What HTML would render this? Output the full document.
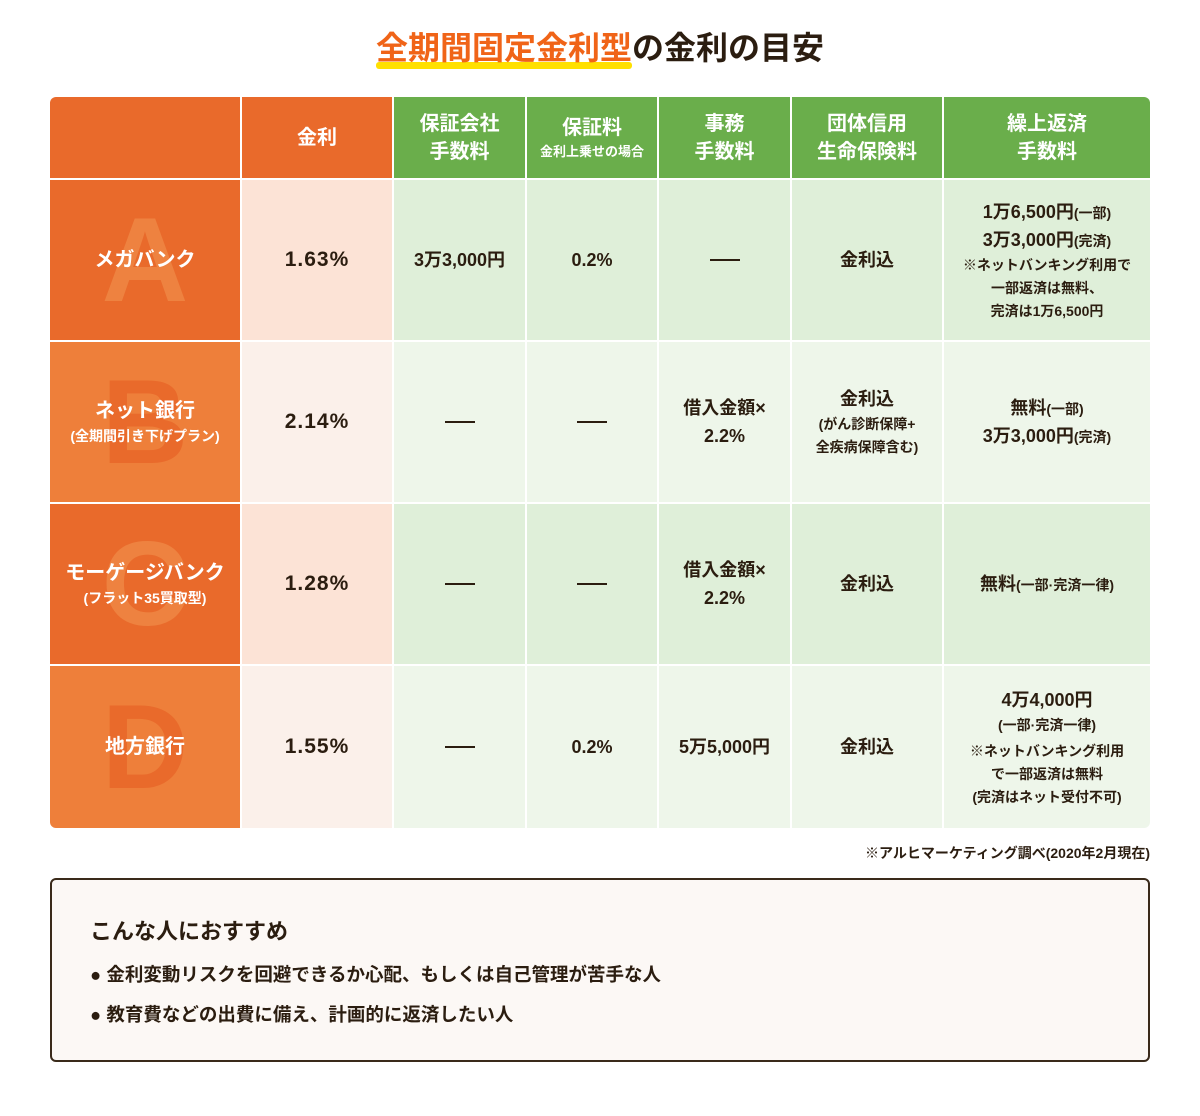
<!DOCTYPE html>
<html><head><meta charset="utf-8"><style>
body{margin:0;background:#fff;width:1200px;height:1116px;position:relative;font-family:"Liberation Sans","Noto Sans CJK JP",sans-serif;color:#2b1d10;font-weight:bold}
.t{position:absolute;top:26px;left:0;width:1200px;text-align:center;font-size:32px;line-height:44px}
.t .o{color:#f06418;position:relative}
.t .o:after{content:"";position:absolute;left:0;right:0;bottom:-3px;height:7px;background:#ffe000;border-radius:3px;z-index:-1}
.c{position:absolute;display:flex;flex-direction:column;align-items:center;justify-content:center;text-align:center;overflow:hidden}
.h{color:#fff;font-size:20px;line-height:28px}
.oh{background:#e96a2b}.gh{background:#6aae4b}
.oa{background:#e96a2b}.ob{background:#ee7f3a}
.pa{background:#fce3d6}.pb{background:#fbf0ea}
.ga{background:#dfefd9}.gb{background:#eef6ea}
.n{color:#fff;font-size:20px;line-height:28px;position:relative;z-index:1}
.s{font-size:14px;line-height:22px}
.L{position:absolute;font-size:120px;font-weight:bold;z-index:0}
.v{font-size:18px;line-height:28px}
.r{font-size:21px;letter-spacing:1px}
.d{width:30px;height:2px;background:#2b1d10}
</style></head><body>
<div class="t"><span class="o">全期間固定金利型</span>の金利の目安</div>

<div class="c oh h" style="left:50px;top:97px;width:190px;height:81px;border-top-left-radius:6px"></div>
<div class="c oh h" style="left:242px;top:97px;width:150px;height:81px">金利</div>
<div class="c gh h" style="left:394px;top:97px;width:131px;height:81px">保証会社<br>手数料</div>
<div class="c gh h" style="left:527px;top:97px;width:130px;height:81px"><span>保証料</span><span style="font-size:13px;line-height:20px">金利上乗せの場合</span></div>
<div class="c gh h" style="left:659px;top:97px;width:131px;height:81px">事務<br>手数料</div>
<div class="c gh h" style="left:792px;top:97px;width:150px;height:81px">団体信用<br>生命保険料</div>
<div class="c gh h" style="left:944px;top:97px;width:206px;height:81px;border-top-right-radius:6px">繰上返済<br>手数料</div>

<div class="c oa" style="left:50px;top:180px;width:190px;height:160px"><span class="L" style="color:#ee8240">A</span><span class="n">メガバンク</span></div>
<div class="c pa r" style="left:242px;top:180px;width:150px;height:160px">1.63%</div>
<div class="c ga v" style="left:394px;top:180px;width:131px;height:160px">3万3,000円</div>
<div class="c ga v" style="left:527px;top:180px;width:130px;height:160px">0.2%</div>
<div class="c ga v" style="left:659px;top:180px;width:131px;height:160px"><div class="d"></div></div>
<div class="c ga v" style="left:792px;top:180px;width:150px;height:160px">金利込</div>
<div class="c ga v" style="left:944px;top:180px;width:206px;height:160px"><span>1万6,500円<span class="s">(一部)</span></span><span>3万3,000円<span class="s">(完済)</span></span><span class="s" style="line-height:23px">※ネットバンキング利用で<br>一部返済は無料、<br>完済は1万6,500円</span></div>

<div class="c ob" style="left:50px;top:342px;width:190px;height:160px"><span class="L" style="color:#e96a2b">B</span><span class="n">ネット銀行</span><span class="n s">(全期間引き下げプラン)</span></div>
<div class="c pb r" style="left:242px;top:342px;width:150px;height:160px">2.14%</div>
<div class="c gb v" style="left:394px;top:342px;width:131px;height:160px"><div class="d"></div></div>
<div class="c gb v" style="left:527px;top:342px;width:130px;height:160px"><div class="d"></div></div>
<div class="c gb v" style="left:659px;top:342px;width:131px;height:160px">借入金額×<br>2.2%</div>
<div class="c gb v" style="left:792px;top:342px;width:150px;height:160px"><span>金利込</span><span class="s" style="line-height:23px">(がん診断保障+<br>全疾病保障含む)</span></div>
<div class="c gb v" style="left:944px;top:342px;width:206px;height:160px"><span>無料<span class="s">(一部)</span></span><span>3万3,000円<span class="s">(完済)</span></span></div>

<div class="c oa" style="left:50px;top:504px;width:190px;height:160px"><span class="L" style="color:#ee8240">C</span><span class="n">モーゲージバンク</span><span class="n s">(フラット35買取型)</span></div>
<div class="c pa r" style="left:242px;top:504px;width:150px;height:160px">1.28%</div>
<div class="c ga v" style="left:394px;top:504px;width:131px;height:160px"><div class="d"></div></div>
<div class="c ga v" style="left:527px;top:504px;width:130px;height:160px"><div class="d"></div></div>
<div class="c ga v" style="left:659px;top:504px;width:131px;height:160px">借入金額×<br>2.2%</div>
<div class="c ga v" style="left:792px;top:504px;width:150px;height:160px">金利込</div>
<div class="c ga v" style="left:944px;top:504px;width:206px;height:160px"><span>無料<span class="s">(一部·完済一律)</span></span></div>

<div class="c ob" style="left:50px;top:666px;width:190px;height:162px;border-bottom-left-radius:6px"><span class="L" style="color:#e96a2b">D</span><span class="n">地方銀行</span></div>
<div class="c pb r" style="left:242px;top:666px;width:150px;height:162px">1.55%</div>
<div class="c gb v" style="left:394px;top:666px;width:131px;height:162px"><div class="d"></div></div>
<div class="c gb v" style="left:527px;top:666px;width:130px;height:162px">0.2%</div>
<div class="c gb v" style="left:659px;top:666px;width:131px;height:162px">5万5,000円</div>
<div class="c gb v" style="left:792px;top:666px;width:150px;height:162px">金利込</div>
<div class="c gb v" style="left:944px;top:666px;width:206px;height:162px;border-bottom-right-radius:6px"><span>4万4,000円</span><span class="s">(一部·完済一律)</span><span class="s" style="line-height:23px;margin-top:4px">※ネットバンキング利用<br>で一部返済は無料<br>(完済はネット受付不可)</span></div>

<div style="position:absolute;right:50px;top:843px;font-size:14px">※アルヒマーケティング調べ(2020年2月現在)</div>

<div style="position:absolute;left:50px;top:878px;width:1096px;height:180px;border:2px solid #3a2a1a;border-radius:6px;background:#fcf8f5">
<div style="position:absolute;left:38px;top:34px;font-size:22px">こんな人におすすめ</div>
<div style="position:absolute;left:38px;top:81px;font-size:18.5px">●&nbsp;金利変動リスクを回避できるか心配、もしくは自己管理が苦手な人</div>
<div style="position:absolute;left:38px;top:121px;font-size:18.5px">●&nbsp;教育費などの出費に備え、計画的に返済したい人</div>
</div>
</body></html>
